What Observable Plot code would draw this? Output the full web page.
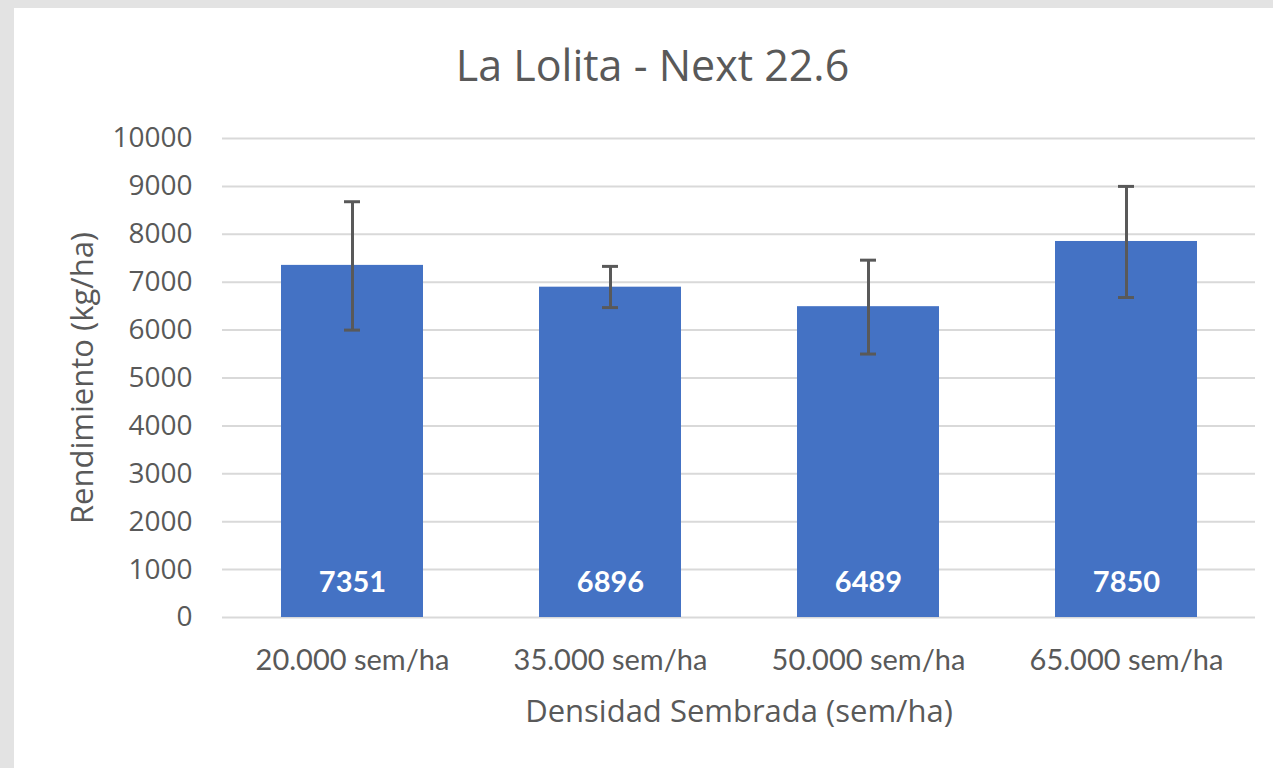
<!DOCTYPE html>
<html>
<head>
<meta charset="utf-8">
<script src="https://cdn.jsdelivr.net/npm/d3@7"></script>
<script src="https://cdn.jsdelivr.net/npm/@observablehq/plot@0.6"></script>
<style>
  html, body { margin: 0; padding: 0; }
  body { width: 1273px; height: 768px; background: #e3e3e3; overflow: hidden; position: relative; }
  #panel { position: absolute; left: 14px; top: 8px; width: 1259px; height: 760px; background: #ffffff; }
  #title { position: absolute; left: 0; top: 7px; width: 1259px; height: 100px; text-align: center;
           font-family: "Open Sans", sans-serif; font-size: 43px; color: #595959; line-height: 100px;
           padding-left: 18px; box-sizing: border-box; }
  #chart { position: absolute; left: 0; top: 100px; }
</style>
</head>
<body>
<div id="panel">
  <div id="title">La Lolita - Next 22.6</div>
  <div id="chart"></div>
</div>
<script>
const categories = ["20.000 sem/ha", "35.000 sem/ha", "50.000 sem/ha", "65.000 sem/ha"];
const rendimiento = [7351, 6896, 6489, 7850];
const errorHigh = [8680, 7330, 7460, 9000];
const errorLow = [6000, 6470, 5500, 6680];
const yTicks = [0, 1000, 2000, 3000, 4000, 5000, 6000, 7000, 8000, 9000, 10000];
const xLabel = "Densidad Sembrada (sem/ha)";
const yLabel = "Rendimiento (kg/ha)";

const data = categories.map((c, i) => ({cat: c, value: rendimiento[i], hi: errorHigh[i], lo: errorLow[i]}));

const textColor = "#595959";

const chart = Plot.plot({
  width: 1259,
  height: 660,
  marginTop: 30,
  marginBottom: 151,
  marginLeft: 208,
  marginRight: 18,
  style: { background: "white", color: textColor },
  x: { domain: categories, paddingInner: 0.45, paddingOuter: 0.225, label: null },
  y: { domain: [0, 10000], label: null },
  marks: [
    Plot.ruleY(yTicks, { stroke: "#d9d9d9", strokeWidth: 2 }),
    Plot.barY(data, { x: "cat", y: "value", fill: "#4472c4" }),
    Plot.ruleX(data, { x: "cat", y1: "lo", y2: "hi", stroke: "#595959", strokeWidth: 3 }),
    Plot.tickY(data, { x: "cat", y: "hi", stroke: "#595959", strokeWidth: 3, insetLeft: 63, insetRight: 63 }),
    Plot.tickY(data, { x: "cat", y: "lo", stroke: "#595959", strokeWidth: 3, insetLeft: 63, insetRight: 63 }),
    Plot.text(data, { x: "cat", y: 0, text: d => String(d.value), dy: -35, fill: "white",
      fontWeight: "bold", fontSize: 29, fontFamily: "Lato, sans-serif" }),
    Plot.axisY(yTicks, { tickSize: 0, tickPadding: 30, fontSize: 28, fontFamily: "'Open Sans', sans-serif",
      label: null, tickFormat: d => String(d) }),
    Plot.axisX({ tickSize: 0, tickPadding: 32, fontSize: 29, fontFamily: "Lato, sans-serif", label: null }),
    Plot.text([xLabel], { frameAnchor: "bottom", dy: 104, fontSize: 31, fill: textColor,
      fontFamily: "'Open Sans', sans-serif", text: d => d }),
    Plot.text([yLabel], { frameAnchor: "left", dx: -139, rotate: -90, textAnchor: "middle", fontSize: 31, fill: textColor,
      fontFamily: "'Open Sans', sans-serif", text: d => d })
  ]
});
document.getElementById("chart").appendChild(chart);
</script>
</body>
</html>
